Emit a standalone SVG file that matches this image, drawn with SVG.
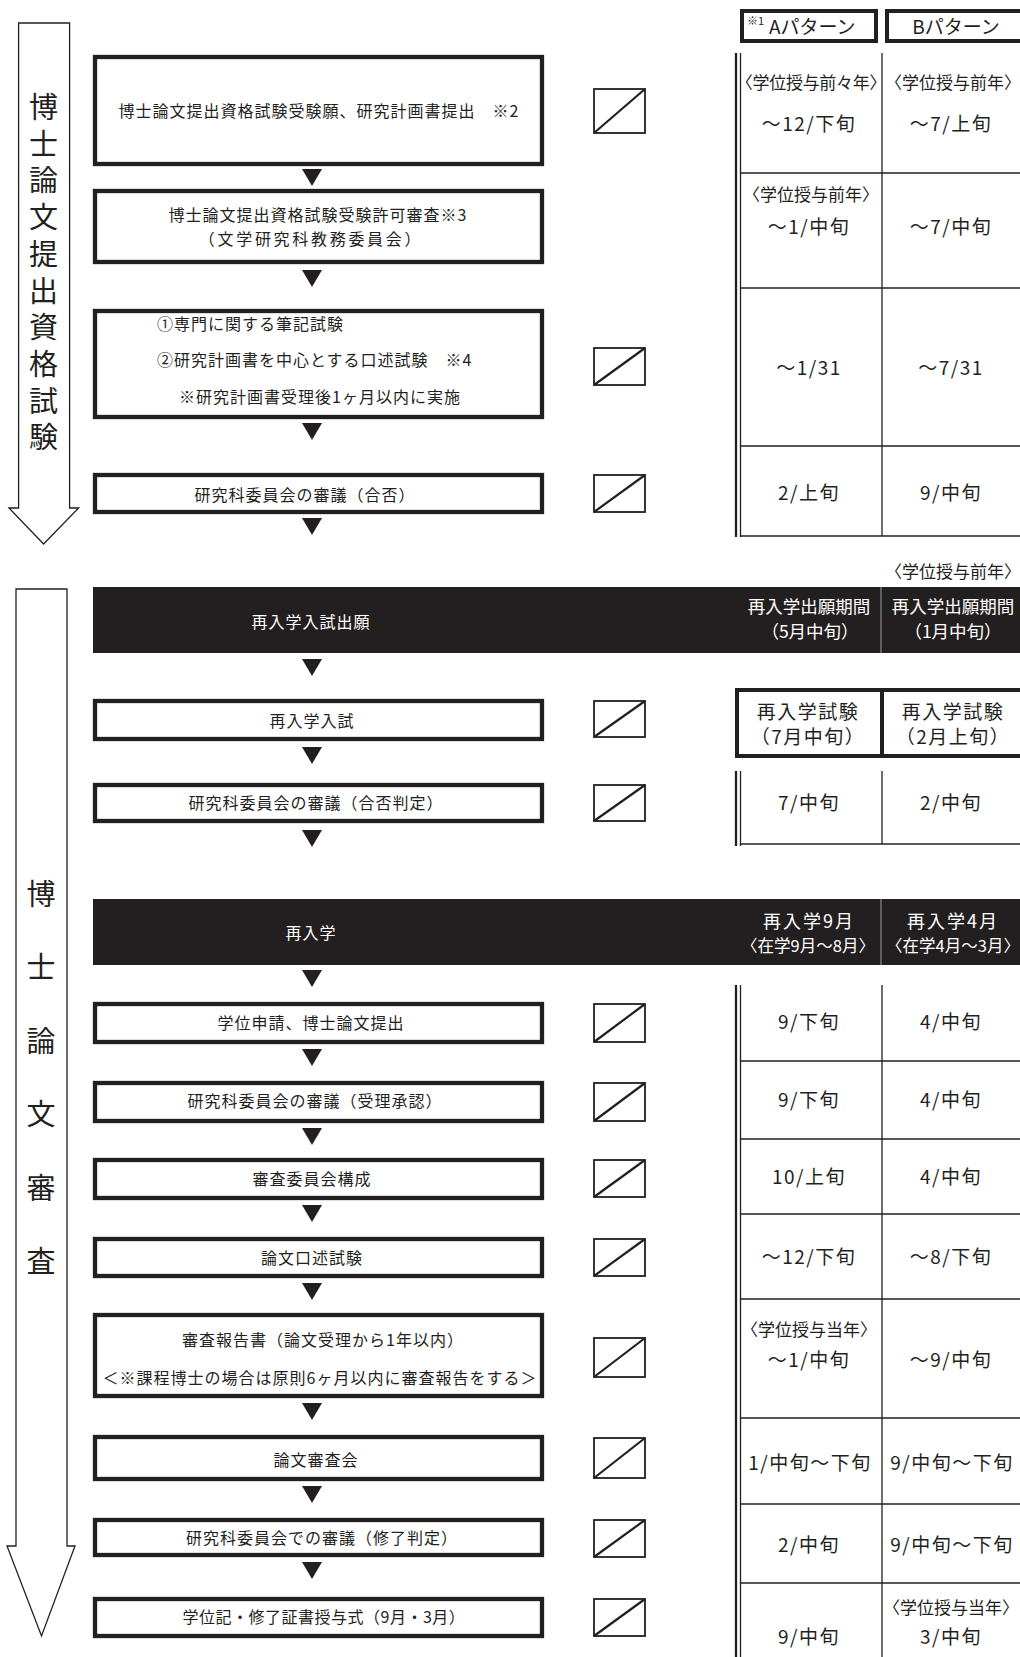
<svg xmlns="http://www.w3.org/2000/svg" width="1020" height="1657" viewBox="0 0 1020 1657">
<style>
text{font-family:"Noto Sans CJK JP","Noto Sans",sans-serif;fill:#231f20;}
.bx{fill:#fff;stroke:#231f20;stroke-width:4.3;}
.bt{font-size:16px;letter-spacing:1px;text-anchor:middle;}
.bl{font-size:16px;letter-spacing:1px;}
.bar{fill:#231f20;}
.wt{fill:#fff;}
.sl rect{fill:#fff;stroke:#231f20;stroke-width:1.8;}
.sl line{stroke:#231f20;stroke-width:2.2;}
.tl{stroke:#231f20;stroke-width:1.3;fill:none;}
.dl{stroke:#231f20;stroke-width:2.3;fill:none;}
.hb{fill:none;stroke:#231f20;stroke-width:4;}
.big{fill:#fff;stroke:#231f20;stroke-width:1.3;}
.vt{font-size:29px;writing-mode:vertical-rl;}
.dt{font-size:19px;letter-spacing:1.5px;text-anchor:middle;}
.yr{font-size:17px;text-anchor:middle;}
.bh{font-size:17.5px;text-anchor:middle;}
.ht{font-size:19px;letter-spacing:1.5px;text-anchor:middle;}
.tri{fill:#231f20;}
.bd{stroke:#9a9a9a;stroke-width:1;}
</style>

<g id="phase1-arrow">
<polygon class="big" points="18.6,23 69.6,23 69.6,508 78.6,508 43.6,544 9,508 18.6,508"/>
<text class="vt" x="43.6" y="92.5" style="letter-spacing:7.7px">博士論文提出資格試験</text>
</g>

<g id="phase2-arrow">
<polygon class="big" points="16,589 67,589 67,1546 75,1546 41.5,1636 7,1546 16,1546"/>
<text class="vt" x="41" y="879.5" style="letter-spacing:44.4px">博士論文審査</text>
</g>

<g id="header-patterns">
<rect class="hb" x="742" y="11" width="134" height="30"/>
<text x="747" y="25" style="font-size:11px">※1</text>
<text x="769" y="34" style="font-size:19px">Aパターン</text>
<rect class="hb" x="887" y="11" width="137" height="30"/>
<text x="956" y="34" style="font-size:19px;text-anchor:middle">Bパターン</text>
</g>

<g id="node-b1"><rect class="bx" x="95" y="57" width="447" height="107"/><text class="bt" x="319" y="117">博士論文提出資格試験受験願、研究計画書提出　※2</text></g>
<g id="node-b2"><rect class="bx" x="95" y="191" width="447" height="71"/><text class="bt" x="318" y="221">博士論文提出資格試験受験許可審査※3</text><text class="bt" x="311" y="244.5" style="letter-spacing:2.7px">（文学研究科教務委員会）</text></g>
<g id="node-b3"><rect class="bx" x="95" y="311" width="447" height="106"/><text class="bl" x="157" y="330">①専門に関する筆記試験</text><text class="bl" x="157" y="366">②研究計画書を中心とする口述試験　※4</text><text class="bl" x="179" y="403">※研究計画書受理後1ヶ月以内に実施</text></g>
<g id="node-b4"><rect class="bx" x="95" y="475" width="447" height="37"/><text class="bt" x="305" y="501">研究科委員会の審議（合否）</text></g>
<g id="node-bar1"><rect class="bar" x="93" y="587" width="927" height="66"/><line class="bd" x1="881" y1="587" x2="881" y2="653"/><text class="bt wt" x="311" y="628">再入学入試出願</text>
<text class="bh wt" x="809" y="613">再入学出願期間</text><text class="bh wt" x="810" y="638">（5月中旬）</text>
<text class="bh wt" x="953" y="613">再入学出願期間</text><text class="bh wt" x="953" y="638">（1月中旬）</text></g>
<g id="node-b5"><rect class="bx" x="95" y="701" width="447" height="38"/><text class="bt" x="312" y="727">再入学入試</text></g>
<g id="node-b6"><rect class="bx" x="95" y="785" width="447" height="36"/><text class="bt" x="316" y="809">研究科委員会の審議（合否判定）</text></g>
<g id="node-bar2"><rect class="bar" x="93" y="899" width="927" height="66"/><line class="bd" x1="881" y1="899" x2="881" y2="965"/><text class="bt wt" x="311" y="939">再入学</text>
<text class="wt" x="809" y="927.5" style="font-size:18px;letter-spacing:2px;text-anchor:middle">再入学9月</text><text class="yr wt" x="808" y="952" style="font-size:16.5px">〈在学9月～8月〉</text>
<text class="wt" x="953" y="927.5" style="font-size:18px;letter-spacing:2px;text-anchor:middle">再入学4月</text><text class="yr wt" x="953" y="952" style="font-size:16.5px">〈在学4月～3月〉</text></g>
<g id="node-b7"><rect class="bx" x="95" y="1004" width="447" height="38"/><text class="bt" x="311" y="1029">学位申請、博士論文提出</text></g>
<g id="node-b8"><rect class="bx" x="95" y="1083" width="447" height="38"/><text class="bt" x="315" y="1107">研究科委員会の審議（受理承認）</text></g>
<g id="node-b9"><rect class="bx" x="95" y="1160" width="447" height="38"/><text class="bt" x="312" y="1185">審査委員会構成</text></g>
<g id="node-b10"><rect class="bx" x="95" y="1239" width="447" height="37"/><text class="bt" x="312" y="1264">論文口述試験</text></g>
<g id="node-b11"><rect class="bx" x="95" y="1315" width="447" height="81"/><text class="bt" x="323" y="1346">審査報告書（論文受理から1年以内）</text><text class="bt" x="320" y="1384">＜※課程博士の場合は原則6ヶ月以内に審査報告をする＞</text></g>
<g id="node-b12"><rect class="bx" x="95" y="1437" width="447" height="42"/><text class="bt" x="316" y="1466">論文審査会</text></g>
<g id="node-b13"><rect class="bx" x="95" y="1520" width="447" height="35"/><text class="bt" x="322" y="1544">研究科委員会での審議（修了判定）</text></g>
<g id="node-b14"><rect class="bx" x="95" y="1599" width="447" height="37"/><text class="bt" x="324" y="1623" style="letter-spacing:0.5px">学位記・修了証書授与式（9月・3月）</text></g>

<g id="connectors">
<polygon class="tri" points="302,169 322,169 312,186"/>
<polygon class="tri" points="302,270 322,270 312,287"/>
<polygon class="tri" points="302,423 322,423 312,440"/>
<polygon class="tri" points="302,518 322,518 312,535"/>
<polygon class="tri" points="302,659 322,659 312,676"/>
<polygon class="tri" points="302,747 322,747 312,764"/>
<polygon class="tri" points="302,830 322,830 312,847"/>
<polygon class="tri" points="302,970 322,970 312,987"/>
<polygon class="tri" points="302,1049 322,1049 312,1066"/>
<polygon class="tri" points="302,1128 322,1128 312,1145"/>
<polygon class="tri" points="302,1205 322,1205 312,1222"/>
<polygon class="tri" points="302,1283 322,1283 312,1300"/>
<polygon class="tri" points="302,1403 322,1403 312,1420"/>
<polygon class="tri" points="302,1486 322,1486 312,1503"/>
<polygon class="tri" points="302,1562 322,1562 312,1579"/>
</g>

<g id="check-boxes" class="sl">
<rect x="594" y="89" width="51" height="44"/><line x1="594" y1="133" x2="645" y2="89"/>
<rect x="594" y="348" width="51" height="37"/><line x1="594" y1="385" x2="645" y2="348"/>
<rect x="594" y="475" width="51" height="37"/><line x1="594" y1="512" x2="645" y2="475"/>
<rect x="594" y="701" width="51" height="36"/><line x1="594" y1="737" x2="645" y2="701"/>
<rect x="594" y="785" width="51" height="36"/><line x1="594" y1="821" x2="645" y2="785"/>
<rect x="594" y="1004" width="51" height="38"/><line x1="594" y1="1042" x2="645" y2="1004"/>
<rect x="594" y="1083" width="51" height="38"/><line x1="594" y1="1121" x2="645" y2="1083"/>
<rect x="594" y="1160" width="51" height="37"/><line x1="594" y1="1197" x2="645" y2="1160"/>
<rect x="594" y="1239" width="51" height="37"/><line x1="594" y1="1276" x2="645" y2="1239"/>
<rect x="594" y="1338" width="51" height="39"/><line x1="594" y1="1377" x2="645" y2="1338"/>
<rect x="594" y="1438" width="51" height="40"/><line x1="594" y1="1478" x2="645" y2="1438"/>
<rect x="594" y="1520" width="51" height="37"/><line x1="594" y1="1557" x2="645" y2="1520"/>
<rect x="594" y="1599" width="51" height="37"/><line x1="594" y1="1636" x2="645" y2="1599"/>
</g>

<g id="table1">
<line class="dl" x1="736" y1="53" x2="736" y2="537"/>
<line class="tl" x1="740.5" y1="53" x2="740.5" y2="537"/>
<line class="tl" x1="882" y1="53" x2="882" y2="536"/>
<line class="tl" x1="740" y1="173" x2="1020" y2="173"/>
<line class="tl" x1="740" y1="288" x2="1020" y2="288"/>
<line class="tl" x1="740" y1="446" x2="1020" y2="446"/>
<line class="tl" x1="740" y1="536" x2="1020" y2="536"/>
<text class="yr" x="811" y="89" style="letter-spacing:-0.3px">〈学位授与前々年〉</text>
<text class="dt" x="809" y="131">～12/下旬</text>
<text class="yr" x="953" y="89">〈学位授与前年〉</text>
<text class="dt" x="951" y="131">～7/上旬</text>
<text class="yr" x="811" y="201">〈学位授与前年〉</text>
<text class="dt" x="809" y="234">～1/中旬</text>
<text class="dt" x="951" y="234">～7/中旬</text>
<text class="dt" x="809" y="375">～1/31</text>
<text class="dt" x="951" y="375">～7/31</text>
<text class="dt" x="809" y="500">2/上旬</text>
<text class="dt" x="951" y="500">9/中旬</text>
<text class="yr" x="953" y="578">〈学位授与前年〉</text>
</g>

<g id="table2">
<rect class="hb" x="737" y="690" width="290" height="66"/>
<line class="hb" x1="882" y1="690" x2="882" y2="756"/>
<text class="ht" x="808" y="719">再入学試験</text>
<text class="ht" x="808" y="744">（7月中旬）</text>
<text class="ht" x="953" y="719">再入学試験</text>
<text class="ht" x="953" y="744">（2月上旬）</text>
<line class="dl" x1="736" y1="771" x2="736" y2="846"/>
<line class="tl" x1="740.5" y1="771" x2="740.5" y2="846"/>
<line class="tl" x1="882" y1="771" x2="882" y2="844"/>
<line class="tl" x1="740" y1="844" x2="1020" y2="844"/>
<text class="dt" x="809" y="810">7/中旬</text>
<text class="dt" x="951" y="810">2/中旬</text>
</g>

<g id="table3">
<line class="dl" x1="736" y1="985" x2="736" y2="1657"/>
<line class="tl" x1="740.5" y1="985" x2="740.5" y2="1657"/>
<line class="tl" x1="882" y1="985" x2="882" y2="1657"/>
<line class="tl" x1="740" y1="1061" x2="1020" y2="1061"/>
<line class="tl" x1="740" y1="1139" x2="1020" y2="1139"/>
<line class="tl" x1="740" y1="1214" x2="1020" y2="1214"/>
<line class="tl" x1="740" y1="1299" x2="1020" y2="1299"/>
<line class="tl" x1="740" y1="1418" x2="1020" y2="1418"/>
<line class="tl" x1="740" y1="1504" x2="1020" y2="1504"/>
<line class="tl" x1="740" y1="1583" x2="1020" y2="1583"/>
<text class="dt" x="809" y="1029">9/下旬</text>
<text class="dt" x="951" y="1029">4/中旬</text>
<text class="dt" x="809" y="1107">9/下旬</text>
<text class="dt" x="951" y="1107">4/中旬</text>
<text class="dt" x="809" y="1184">10/上旬</text>
<text class="dt" x="951" y="1184">4/中旬</text>
<text class="dt" x="809" y="1264">～12/下旬</text>
<text class="dt" x="951" y="1264">～8/下旬</text>
<text class="yr" x="809" y="1336">〈学位授与当年〉</text>
<text class="dt" x="809" y="1367">～1/中旬</text>
<text class="dt" x="951" y="1367">～9/中旬</text>
<text class="dt" x="810" y="1470">1/中旬～下旬</text>
<text class="dt" x="952" y="1470">9/中旬～下旬</text>
<text class="dt" x="809" y="1552">2/中旬</text>
<text class="dt" x="952" y="1552">9/中旬～下旬</text>
<text class="dt" x="809" y="1644">9/中旬</text>
<text class="yr" x="951" y="1614">〈学位授与当年〉</text>
<text class="dt" x="951" y="1644">3/中旬</text>
</g>
</svg>
